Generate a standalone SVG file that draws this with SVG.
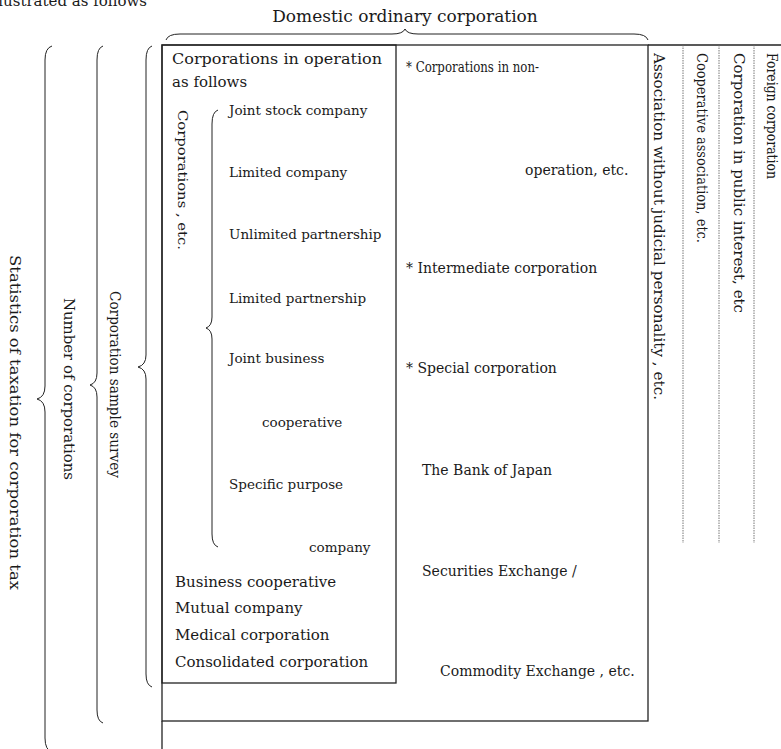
<svg xmlns="http://www.w3.org/2000/svg" width="781" height="749" viewBox="0 0 781 749">
<style>
  text { font-family: "DejaVu Serif", "Liberation Serif", serif; fill: #1a1a1a; }
  .big { font-size: 15px; }
  .mid { font-size: 14px; }
  .sm { font-size: 13.5px; }
  .vl { font-size: 15.5px; }
  .vr { font-size: 14.5px; }
  .top { font-size: 17px; }
  .box { fill: none; stroke: #222; stroke-width: 1.3; }
  .brace { fill: none; stroke: #222; stroke-width: 1; }
  .dot { stroke: #666; stroke-width: 0.9; stroke-dasharray: 1.5 1; }
</style>
<rect width="781" height="749" fill="#fff"/>

<text class="big" x="147" y="6" text-anchor="end">illustrated as follows</text>

<g id="domestic-ordinary">
  <text class="top" x="405" y="22" text-anchor="middle">Domestic ordinary corporation</text>
</g>

<g id="connectors">
  <path class="brace" d="M166,40 Q168,34 180,34 L392,34 Q403,34 405,29 Q407,34 418,34 L634,34 Q646,34 648,40"/>
  <path class="brace" d="M52,46 Q45,48 45,60 L45,386 Q45,397 37,399 Q45,401 45,412 L45,738 Q45,750 52,752"/>
  <path class="brace" d="M103,46 Q97,48 97,60 L97,373 Q97,383 90,385 Q97,387 97,397 L97,710 Q97,721 103,723"/>
  <path class="brace" d="M152,46 Q146,48 146,60 L146,355 Q146,365 138,367 Q146,369 146,379 L146,674 Q146,685 152,687"/>
  <path class="brace" d="M218,110 Q212,112 212,124 L212,317 Q212,326 206,328 Q212,330 212,339 L212,534 Q212,545 218,547"/>
  <line class="box" x1="648" y1="45" x2="781" y2="45"/>
  <line class="box" x1="162" y1="721" x2="162" y2="749"/>
  <line class="dot" x1="683" y1="45" x2="683" y2="543"/>
  <line class="dot" x1="719" y1="45" x2="719" y2="543"/>
  <line class="dot" x1="754" y1="45" x2="754" y2="543"/>
</g>

<g id="statistics-of-taxation">
  <text class="vl" transform="translate(10,255) rotate(90)" textLength="335" lengthAdjust="spacingAndGlyphs">Statistics of taxation for corporation tax</text>
</g>
<g id="number-of-corporations">
  <text class="vl" transform="translate(64,298) rotate(90)" textLength="182" lengthAdjust="spacingAndGlyphs">Number of corporations</text>
</g>
<g id="corporation-sample-survey">
  <text class="vl" transform="translate(110,291) rotate(90)" textLength="187" lengthAdjust="spacingAndGlyphs">Corporation sample survey</text>
</g>

<g id="outer-box">
  <rect class="box" x="162" y="45" width="486" height="676"/>
</g>

<g id="corporations-in-operation">
  <rect class="box" x="162" y="45" width="234" height="638"/>
  <text class="big" x="172" y="64" textLength="210" lengthAdjust="spacingAndGlyphs">Corporations in operation</text>
  <text class="big" x="172" y="87">as follows</text>
  <text class="sm" transform="translate(178,110) rotate(90)" textLength="140" lengthAdjust="spacingAndGlyphs">Corporations , etc.</text>
  <text class="sm" x="229" y="115">Joint stock company</text>
  <text class="sm" x="229" y="177">Limited company</text>
  <text class="sm" x="229" y="239">Unlimited partnership</text>
  <text class="sm" x="229" y="303">Limited partnership</text>
  <text class="sm" x="229" y="363">Joint business</text>
  <text class="sm" x="262" y="427">cooperative</text>
  <text class="sm" x="229" y="489">Specific purpose</text>
  <text class="sm" x="309" y="552">company</text>
  <text class="big" x="175" y="587">Business cooperative</text>
  <text class="big" x="175" y="613">Mutual company</text>
  <text class="big" x="175" y="640">Medical corporation</text>
  <text class="big" x="175" y="667">Consolidated corporation</text>
</g>

<g id="other-corporations">
  <text class="mid" x="406" y="72" textLength="133" lengthAdjust="spacingAndGlyphs">* Corporations in non-</text>
  <text class="mid" x="525" y="175">operation, etc.</text>
  <text class="mid" x="406" y="273">* Intermediate corporation</text>
  <text class="mid" x="406" y="373">* Special corporation</text>
  <text class="mid" x="422" y="475">The Bank of Japan</text>
  <text class="mid" x="422" y="576">Securities Exchange /</text>
  <text class="mid" x="440" y="676">Commodity Exchange , etc.</text>
</g>

<g id="association-without-judicial-personality">
  <text class="vr" transform="translate(654,53) rotate(90)" textLength="347" lengthAdjust="spacingAndGlyphs">Association without judicial personality , etc.</text>
</g>
<g id="cooperative-association">
  <text class="vr" transform="translate(697,53) rotate(90)" textLength="190" lengthAdjust="spacingAndGlyphs">Cooperative association, etc.</text>
</g>
<g id="corporation-in-public-interest">
  <text class="vr" transform="translate(734,53) rotate(90)" textLength="260" lengthAdjust="spacingAndGlyphs">Corporation in public interest, etc</text>
</g>
<g id="foreign-corporation">
  <text class="vr" transform="translate(767,53) rotate(90)" textLength="126" lengthAdjust="spacingAndGlyphs">Foreign corporation</text>
</g>
</svg>
